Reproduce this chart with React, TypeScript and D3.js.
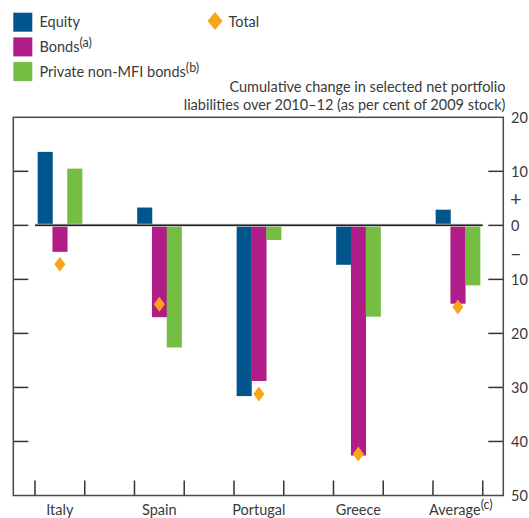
import React from "react";
import * as d3 from "d3";

const categories = ["Italy", "Spain", "Portugal", "Greece", "Average"];
const categorySup = ["", "", "", "", "(c)"];
const seriesNames = ["Equity", "Bonds", "Private non-MFI bonds"];
const seriesSup = ["", "(a)", "(b)"];
const equity = [13.6, 3.3, -31.6, -7.3, 2.9];
const bonds = [-4.9, -17.0, -28.8, -42.6, -14.5];
const privateBonds = [10.5, -22.6, -2.7, -16.9, -11.1];
const total = [-7.2, -14.6, -31.2, -42.3, -15.1];
const yTicks = [20, 10, 0, -10, -20, -30, -40, -50];
const titleLines = [
  "Cumulative change in selected net portfolio",
  "liabilities over 2010\u201312 (as per cent of 2009 stock)",
];

const colors = ["#00558C", "#B01C88", "#74BE44"];
const totalColor = "#F9A51A";
const textColor = "#3a3a3a";
const axisColor = "#4a4a4a";
const font = "Lato, 'Open Sans', sans-serif";

const W = 529;
const H = 518;
const box = { left: 13.3, right: 503.3, top: 117.3, bottom: 495.5 };

export default function App() {
  const series = [equity, bonds, privateBonds];
  const x = d3.scaleBand<string>().domain(categories).range([10.1, 507.6]).padding(0);
  const bw = x.bandwidth();
  const inner = d3
    .scaleBand<number>()
    .domain([0, 1, 2])
    .range([-22.2, 22.2])
    .padding(0);
  const y = d3.scaleLinear().domain([-50, 20]).range([box.bottom, box.top]);

  const xTicks: number[] = [];
  categories.forEach((c) => {
    const cx = (x(c) as number) + bw / 2;
    xTicks.push(cx - bw / 4, cx + bw / 4);
  });

  const diamond = (cx: number, cy: number, w: number, h: number) =>
    `M${cx},${cy - h / 2}L${cx + w / 2},${cy}L${cx},${cy + h / 2}L${cx - w / 2},${cy}Z`;

  return (
    <svg
      width={W}
      height={H}
      style={{ position: "absolute", left: 0, top: 0 }}
      fontFamily={font}
    >
      {/* legend */}
      {seriesNames.map((s, i) => (
        <g key={s}>
          <rect x={13.3} y={12.7 + i * 24.7} width={19} height={19} fill={colors[i]} />
          <text x={39.5} y={26.8 + i * 25.2} fontSize={14.5} fill={textColor}>
            {s}
            {seriesSup[i] && (
              <tspan fontSize={12.5} dy={-5.5}>
                {seriesSup[i]}
              </tspan>
            )}
          </text>
        </g>
      ))}
      <path d={diamond(215, 21, 15, 18)} fill={totalColor} />
      <text x={228.5} y={26.8} fontSize={14.5} fill={textColor}>
        Total
      </text>

      {/* title */}
      {titleLines.map((t, i) => (
        <text
          key={i}
          x={505.5}
          y={92 + i * 18}
          fontSize={14.5}
          textAnchor="end"
          fill={textColor}
        >
          {t}
        </text>
      ))}

      {/* bars */}
      {series.map((vals, si) =>
        vals.map((v, ci) => {
          const cx = (x(categories[ci]) as number) + bw / 2;
          const x0 = cx + (inner(si) as number);
          const y0 = y(Math.max(0, v));
          const y1 = y(Math.min(0, v));
          return (
            <rect
              key={`${si}-${ci}`}
              x={x0}
              y={y0}
              width={inner.bandwidth() + 0.3}
              height={y1 - y0}
              fill={colors[si]}
            />
          );
        })
      )}

      {/* zero line */}
      <line
        x1={xTicks[0]}
        x2={xTicks[xTicks.length - 1]}
        y1={y(0)}
        y2={y(0)}
        stroke="#cfcfcf"
        strokeWidth={3}
      />
      <line
        x1={xTicks[0]}
        x2={xTicks[xTicks.length - 1]}
        y1={y(0)}
        y2={y(0)}
        stroke="#222"
        strokeWidth={1.5}
      />

      {/* total diamonds */}
      {total.map((v, ci) => {
        const cx = (x(categories[ci]) as number) + bw / 2;
        return <path key={ci} d={diamond(cx, y(v), 11, 15)} fill={totalColor} />;
      })}

      {/* y ticks */}
      {yTicks
        .filter((t) => t < 20 && t > -50)
        .map((t) => (
          <g key={t}>
            <line x1={box.left} x2={box.left + 15} y1={y(t)} y2={y(t)} stroke="#333" strokeWidth={1.5} />
            <line x1={box.right - 15} x2={box.right} y1={y(t)} y2={y(t)} stroke="#333" strokeWidth={1.5} />
          </g>
        ))}

      {/* x ticks */}
      {xTicks.map((t, i) => (
        <line key={i} x1={t} x2={t} y1={box.bottom - 15} y2={box.bottom} stroke="#333" strokeWidth={1.5} />
      ))}

      {/* frame */}
      <rect
        x={box.left}
        y={box.top}
        width={box.right - box.left}
        height={box.bottom - box.top}
        fill="none"
        stroke={axisColor}
        strokeWidth={1.5}
      />

      {/* right labels */}
      {yTicks.map((t) => (
        <text
          key={t}
          x={511}
          y={y(t)}
          dy="0.36em"
          fontSize={14.5}
          fill={textColor}
        >
          {Math.abs(t)}
        </text>
      ))}
      <text x={510} y={y(5)} dy="0.36em" fontSize={20} fill={textColor}>
        +
      </text>
      <text x={510} y={y(-5)} dy="0.36em" fontSize={20} fill={textColor}>
        {"\u2013"}
      </text>

      {/* category labels */}
      {categories.map((c, i) => (
        <text
          key={c}
          x={(x(c) as number) + bw / 2 + (categorySup[i] ? 3 : 0)}
          y={514.5}
          fontSize={14.5}
          textAnchor="middle"
          fill={textColor}
        >
          {c}
          {categorySup[i] && (
            <tspan fontSize={12.5} dy={-5.5}>
              {categorySup[i]}
            </tspan>
          )}
        </text>
      ))}
    </svg>
  );
}
